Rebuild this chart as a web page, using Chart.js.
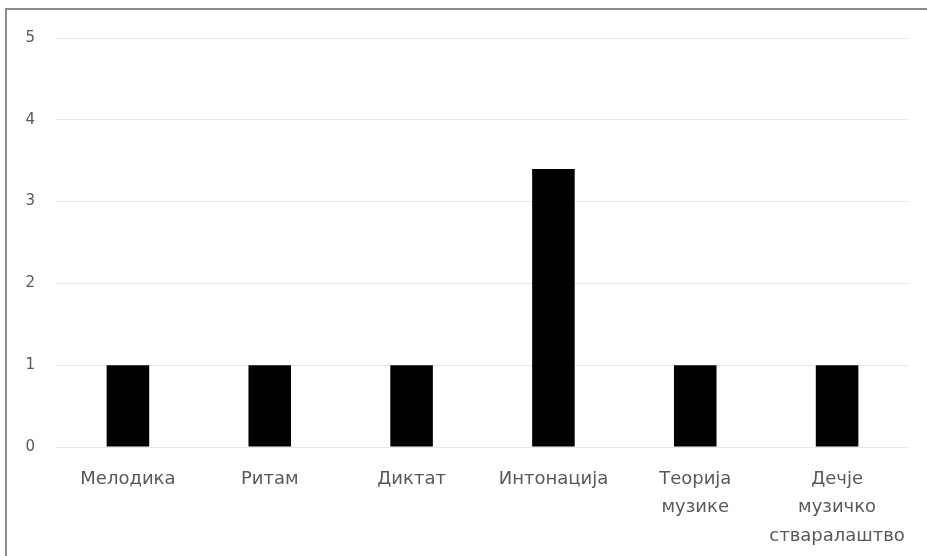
<!DOCTYPE html>
<html>
<head>
<meta charset="utf-8">
<script src="https://cdn.jsdelivr.net/npm/chart.js@4/dist/chart.umd.min.js"></script>
<style>
  html, body { margin: 0; padding: 0; background: #fff; overflow: hidden; }
  #wrap { position: relative; width: 927px; height: 556px; }
  #frame { position: absolute; left: 5px; top: 8px; width: 940px; height: 570px;
           border: 2px solid #8c8c8c; pointer-events: none; box-sizing: border-box; }
  canvas { position: absolute; left: 0; top: 0; }
</style>
</head>
<body>
<div id="wrap">
  <canvas id="c" width="927" height="556"></canvas>
  <div id="frame"></div>
</div>
<script>
const categories = [
  'Мелодика',
  'Ритам',
  'Диктат',
  'Интонација',
  ['Теорија', 'музике'],
  ['Дечје', 'музичко', 'стваралаштво']
];
const values = [1, 1, 1, 3.4, 1, 1];
const yTicks = [0, 1, 2, 3, 4, 5];

const labelColor = '#595959';

new Chart(document.getElementById('c'), {
  type: 'bar',
  data: {
    labels: categories,
    datasets: [{
      data: values,
      backgroundColor: '#000000',
      borderWidth: 0,
      barPercentage: 0.3,
      categoryPercentage: 1.0
    }]
  },
  options: {
    responsive: false,
    animation: false,
    devicePixelRatio: 1,
    layout: { padding: { left: 0, right: 19, top: 38, bottom: 0 } },
    plugins: { legend: { display: false }, tooltip: { enabled: false } },
    scales: {
      x: {
        grid: { display: false },
        border: { display: false },
        ticks: {
          color: labelColor,
          font: { family: 'DejaVu Sans', size: 18, lineHeight: '28.5px' },
          padding: 10,
          maxRotation: 0,
          autoSkip: false
        },
        afterFit(scale) { scale.height = 109; }
      },
      y: {
        min: yTicks[0],
        max: yTicks[yTicks.length - 1],
        afterBuildTicks(scale) { scale.ticks = yTicks.map(v => ({ value: v })); },
        grid: { color: '#e8e8e8', lineWidth: 1, drawTicks: false },
        border: { display: false },
        ticks: {
          color: labelColor,
          font: { family: 'DejaVu Sans', size: 15 },
          padding: 22
        },
        afterFit(scale) { scale.width = 57; }
      }
    }
  }
});
</script>
</body>
</html>
